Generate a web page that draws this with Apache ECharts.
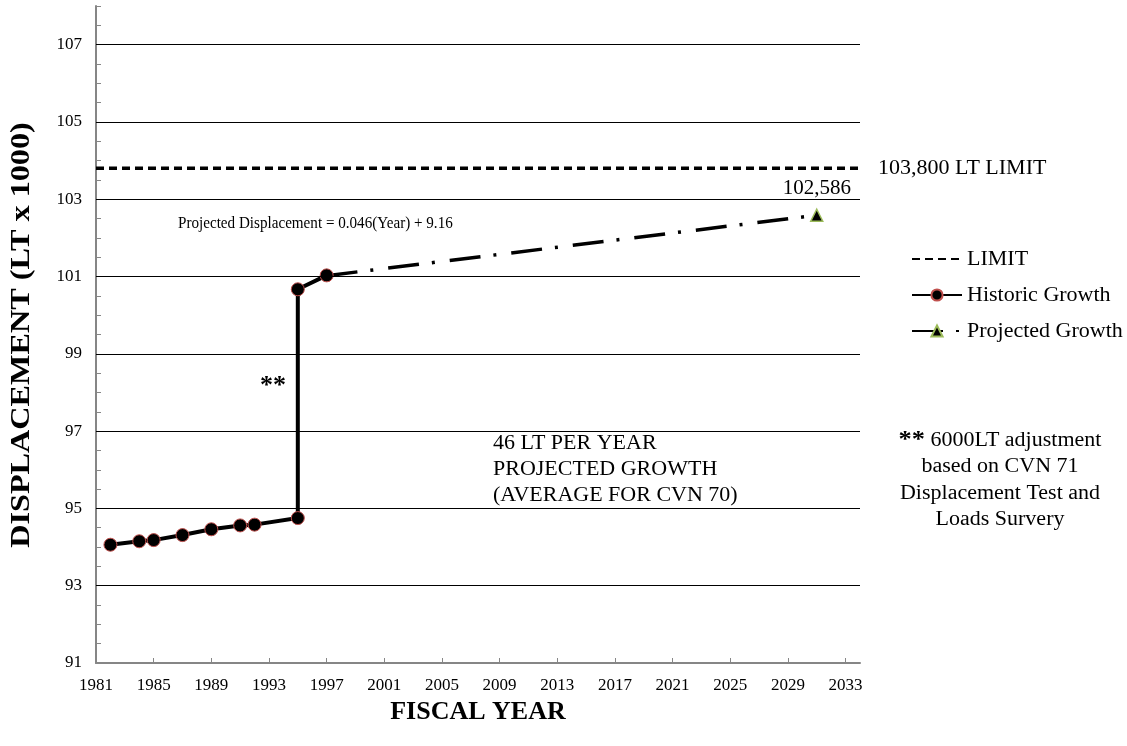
<!DOCTYPE html>
<html>
<head>
<meta charset="utf-8">
<script src="https://cdn.jsdelivr.net/npm/echarts@6/dist/echarts.min.js"></script>
<style>
html,body{margin:0;padding:0;background:#fff;}
#chart{width:1127px;height:746px;}
</style>
</head>
<body>
<div id="chart"></div>
<script>
// ---- data ----
const histYears = [1982, 1984, 1985, 1987, 1989, 1991, 1992, 1995, 1995, 1997];
const histValues = [94.06, 94.15, 94.18, 94.31, 94.46, 94.56, 94.58, 94.75, 100.67, 101.03];
const projYears = [1997, 2031];
const projValues = [101.022, 102.586];
const limitYears = [1981, 2034];
const limitValue = 103.8;
const xTickLabels = [1981, 1985, 1989, 1993, 1997, 2001, 2005, 2009, 2013, 2017, 2021, 2025, 2029, 2033];
const yTickLabels = [91, 93, 95, 97, 99, 101, 103, 105, 107];
const gridValues = [93, 95, 97, 99, 101, 103, 105, 107];

const FONT = '"Liberation Serif", "Times New Roman", serif';
const chart = echarts.init(document.getElementById('chart'), null, {renderer: 'canvas'});

const option = {
  animation: false,
  backgroundColor: '#fff',
  textStyle: {fontFamily: FONT, color: '#000'},
  grid: {left: 96, right: 267, top: 6, bottom: 83, outerBoundsMode: 'none', containLabel: false},
  xAxis: {
    type: 'value', min: 1981, max: 2034, interval: 4,
    name: 'FISCAL YEAR', nameLocation: 'middle', nameGap: 28,
    nameTextStyle: {fontFamily: FONT, fontWeight: 'bold', fontSize: 26, color: '#000', verticalAlign: 'top'},
    axisLine: {show: true, lineStyle: {color: '#868686', width: 2}},
    axisTick: {show: true, inside: true, length: 5, customValues: xTickLabels, lineStyle: {color: '#868686', width: 1}},
    axisLabel: {customValues: xTickLabels, formatter: v => String(v), fontFamily: FONT, fontSize: 17, color: '#000', margin: 14},
    splitLine: {show: false}
  },
  yAxis: {
    type: 'value', min: 91, max: 108, interval: 0.5,
    axisLine: {show: true, lineStyle: {color: '#868686', width: 2}},
    axisTick: {show: true, inside: true, length: 5, lineStyle: {color: '#868686', width: 1}},
    axisLabel: {customValues: yTickLabels, formatter: v => String(v), fontFamily: FONT, fontSize: 17, color: '#000', margin: 14},
    splitLine: {show: false}
  },
  legend: {
    orient: 'vertical', left: 906, top: 243, itemWidth: 50, itemHeight: 14, itemGap: 14,
    data: [
      {name: 'LIMIT', itemStyle: {opacity: 0}},
      {name: 'Historic Growth'},
      {name: 'Projected Growth'}
    ],
    textStyle: {fontFamily: FONT, fontSize: 22, lineHeight: 22, color: '#000'}
  },
  series: [
    {
      name: 'grid', type: 'line', data: [], z: 1, silent: true,
      markLine: {
        silent: true, symbol: 'none', animation: false,
        label: {show: false},
        lineStyle: {color: '#000', width: 1, type: 'solid'},
        data: gridValues.map(v => ({yAxis: v}))
      }
    },
    {
      name: 'LIMIT', type: 'line', symbol: 'none', z: 3,
      data: limitYears.map(y => [y, limitValue]),
      lineStyle: {color: '#000', width: 3.5, type: [8, 5]},
      itemStyle: {color: '#000'}
    },
    {
      name: 'Historic Growth', type: 'line', symbol: 'circle', symbolSize: 13, z: 4,
      data: histYears.map((y, i) => [y, histValues[i]]),
      lineStyle: {color: '#000', width: 4},
      itemStyle: {color: '#000', borderColor: '#c0504d', borderWidth: 1}
    },
    {
      name: 'Projected Growth', type: 'line', symbol: 'triangle', symbolSize: 12, z: 4,
      showAllSymbol: true,
      data: projYears.map((y, i) => (i === 0 ? {value: [y, projValues[i]], symbol: 'none'} : {value: [y, projValues[i]]})),
      lineStyle: {color: '#000', width: 3.5, type: [31, 13, 3, 15]},
      itemStyle: {color: '#000', borderColor: '#9bbb59', borderWidth: 1.5},
      label: {
        show: true, position: 'top', distance: 10,
        fontFamily: FONT, fontSize: 21, color: '#000',
        formatter: p => p.dataIndex === projYears.length - 1 ? (projValues[p.dataIndex] * 1000).toLocaleString('en-US', {maximumFractionDigits: 0}) : ''
      }
    }
  ],
  graphic: [
    {type: 'text', x: 22, y: 335, rotation: Math.PI / 2, scaleX: 1.15, style: {text: 'DISPLACEMENT (LT x 1000)', font: 'bold 28px ' + FONT, fill: '#000', align: 'center', verticalAlign: 'middle'}},
    {type: 'text', left: 878, top: 157, style: {text: '103,800 LT LIMIT', font: '22px ' + FONT, fill: '#000'}},
    {type: 'text', x: 178, y: 215, scaleX: 0.89, style: {text: 'Projected Displacement = 0.046(Year) + 9.16', font: '17px ' + FONT, fill: '#000', verticalAlign: 'top'}},
    {type: 'text', left: 260, top: 373, style: {text: '**', font: 'bold 26px ' + FONT, fill: '#000'}},
    {type: 'text', x: 493, y: 431, scaleX: 1.1, style: {text: '46 LT PER YEAR\nPROJECTED GROWTH\n(AVERAGE FOR CVN 70)', font: '20px ' + FONT, fill: '#000', lineHeight: 26, verticalAlign: 'top'}},
    {type: 'text', x: 1000, y: 427, scaleX: 1.1, style: {
      text: '{s|**} 6000LT adjustment\nbased on CVN 71\nDisplacement Test and\nLoads Survery',
      font: '20px ' + FONT, fill: '#000', lineHeight: 26.5, align: 'center', verticalAlign: 'top',
      rich: {s: {font: 'bold 24px ' + FONT, fill: '#000'}}
    }}
  ]
};
chart.setOption(option);
</script>
</body>
</html>
